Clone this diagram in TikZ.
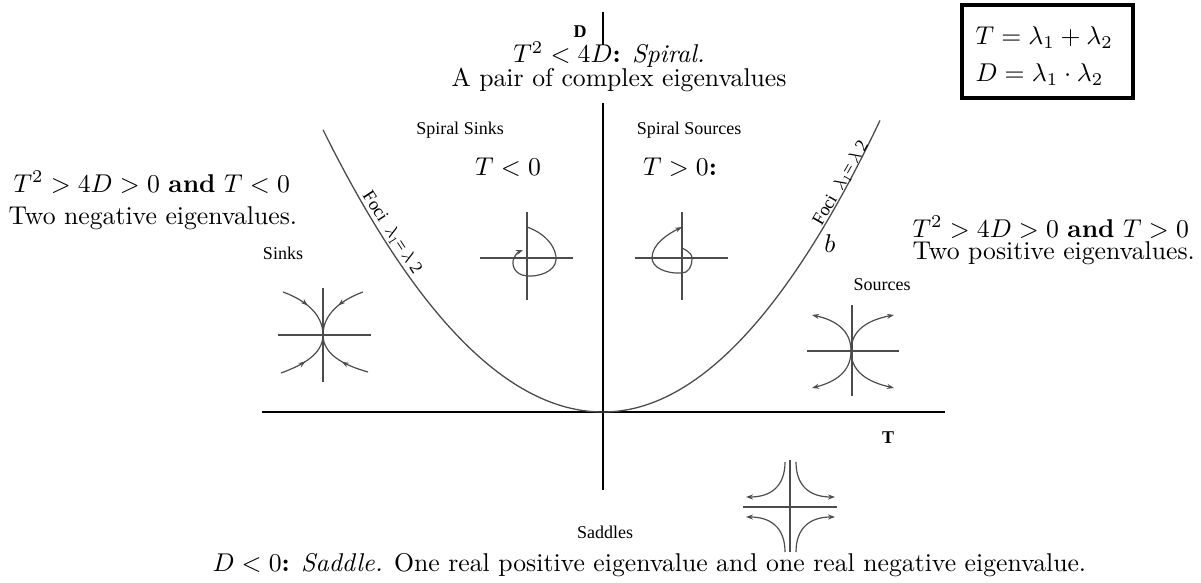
\RequirePackage{fix-cm}
\documentclass[tikz,border=0pt]{standalone}
\usepackage{fontspec}
\newfontfamily\timesf{Liberation Serif}
\usetikzlibrary{arrows.meta,decorations.markings}
\tikzset{
  txt/.style={inner sep=0pt,font=\fontsize{10}{12}\selectfont,scale=2.57,transform shape},
  small/.style={inner sep=0pt,font=\timesf\fontsize{18}{20}\selectfont},
  foci/.style={inner sep=0pt,font=\timesf\fontsize{18}{20}\selectfont},
  axisline/.style={line width=1.6pt,black},
  iconline/.style={line width=1.2pt,black!70},
  curveline/.style={line width=1.3pt,black!70},
  endarrow/.style={-{Stealth[length=7pt,width=5pt]}},
  midarrow/.style={decoration={markings,mark=at position 0.45 with {\arrow{Stealth[length=7pt,width=5pt]}}},postaction={decorate}},
}
\begin{document}
\begin{tikzpicture}[x=1pt,y=1pt]
\useasboundingbox (0,0) rectangle (1201,582);
% axes
\coordinate (vtop) at (603,479);
\coordinate (vbot) at (603,92);
\coordinate (hl) at (262,170);
\coordinate (hr) at (945,170);
\coordinate (stop) at (603,570);
\coordinate (sbot) at (603,537);
\draw[axisline] (vtop) -- (vbot);
\draw[axisline] (hl) -- (hr);
\draw[axisline] (stop) -- (sbot);
% parabola
\draw[curveline] plot[domain=-280:0,samples=80] ({603+\x},{170+(0.06*\x)*(0.06*\x)});
\draw[curveline] plot[domain=0:277,samples=80] ({603+\x},{170+(0.06164*\x)*(0.06164*\x)});
% labels
\node[small,anchor=base] (Dl) at (580,544) {\textbf{D}};
\node[small,anchor=base] (Tl) at (888,139) {\textbf{T}};
\node[txt,anchor=base] (spiral) at (609,519) {$T^2<4D$\textbf{:} \textit{Spiral.}};
\node[txt,anchor=base] (complex) at (619,495) {A pair of complex eigenvalues};
\node[small,anchor=base] (ssinks) at (460,447) {Spiral Sinks};
\node[small,anchor=base] (ssources) at (689,447) {Spiral Sources};
\node[txt,anchor=base] (tneg) at (508,407) {$T<0$};
\node[txt,anchor=base] (tpos) at (680,407) {$T>0$\textbf{:}};
\node[txt,anchor=base west] (l1) at (13,390) {$T^2>4D>0$ \textbf{and} $T<0$};
\node[txt,anchor=base west] (l2) at (8,358) {Two negative eigenvalues.};
\node[small,anchor=base] (sinks) at (283,323) {Sinks};
\node[txt,anchor=base west] (r1) at (912,345) {$T^2>4D>0$ \textbf{and} $T>0$};
\node[txt,anchor=base west] (r2) at (912,323) {Two positive eigenvalues.};
\node[small,anchor=base] (sources) at (882,292) {Sources};
\node[small,anchor=base] (saddles) at (605,44) {Saddles};
\node[txt,anchor=base west] (bottom) at (212,11) {$D<0$\textbf{:} \textit{Saddle.} One real positive eigenvalue and one real negative eigenvalue.};
\node[txt,anchor=base] (bl) at (830,330) {$b$};
\node[foci,rotate=-57] (focil) at (392,349) {Foci\ \ $\lambda_1$=\,$\lambda$ 2};
\node[foci,rotate=60] (focir) at (841,399) {Foci\ \ $\lambda_1$=\,$\lambda$ 2};
% box
\draw[line width=3.5pt] (962,577) rectangle (1133,484);
\node[txt,anchor=base west] (bx1) at (975,537) {$T=\lambda_1+\lambda_2$};
\node[txt,anchor=base west] (bx2) at (975,500) {$D=\lambda_1\cdot\lambda_2$};
% sinks icon
\coordinate (sc) at (323,247);
\draw[iconline] (278,247) -- (371,247);
\draw[iconline] (323,294) -- (323,200);
\draw[iconline,midarrow] (283,290) .. controls (305,282) and (323,268) .. (sc);
\draw[iconline,midarrow] (363,290) .. controls (341,282) and (323,268) .. (sc);
\draw[iconline,midarrow] (281,209) .. controls (303,217) and (323,228) .. (sc);
\draw[iconline,midarrow] (368,210) .. controls (343,217) and (323,228) .. (sc);
% sources icon
\coordinate (oc) at (851,231);
\draw[iconline] (807,231) -- (899,231);
\draw[iconline] (852,277) -- (852,186);
\draw[iconline,endarrow] (oc) .. controls (851,252) and (835,262) .. (812,267);
\draw[iconline,endarrow] (oc) .. controls (851,252) and (868,262) .. (894,267);
\draw[iconline,endarrow] (oc) .. controls (851,210) and (835,200) .. (812,194);
\draw[iconline,endarrow] (oc) .. controls (851,210) and (868,200) .. (894,194);
% spiral sink icon
\draw[iconline] (480,324) -- (573,324);
\draw[iconline] (527,370) -- (527,282);
\draw[iconline,endarrow] (527,355) .. controls (547,348) and (557,333) .. (556,322) .. controls (555,310) and (538,305) .. (527,306) .. controls (514,307) and (511,318) .. (514,324) .. controls (516,328) and (518,330) .. (523,332);
% spiral source icon
\draw[iconline] (635,324) -- (728,324);
\draw[iconline] (682,370) -- (682,282);
\draw[iconline,endarrow] (682,334) .. controls (690,330) and (692,327) .. (692,324) .. controls (692,315) and (688,309) .. (682,309) .. controls (665,308) and (652,315) .. (652,324) .. controls (652,338) and (668,348) .. (682,355);
% saddle icon
\draw[iconline] (743,75) -- (837,75);
\draw[iconline] (790,122) -- (790,30);
\draw[iconline,endarrow] (785,120) .. controls (785,95) and (770,85) .. (746,85);
\draw[iconline,endarrow] (796,120) .. controls (796,95) and (811,85) .. (835,85);
\draw[iconline,endarrow] (785,30) .. controls (785,55) and (770,65) .. (746,65);
\draw[iconline,endarrow] (796,30) .. controls (796,55) and (811,65) .. (835,65);
\end{tikzpicture}
\end{document}
